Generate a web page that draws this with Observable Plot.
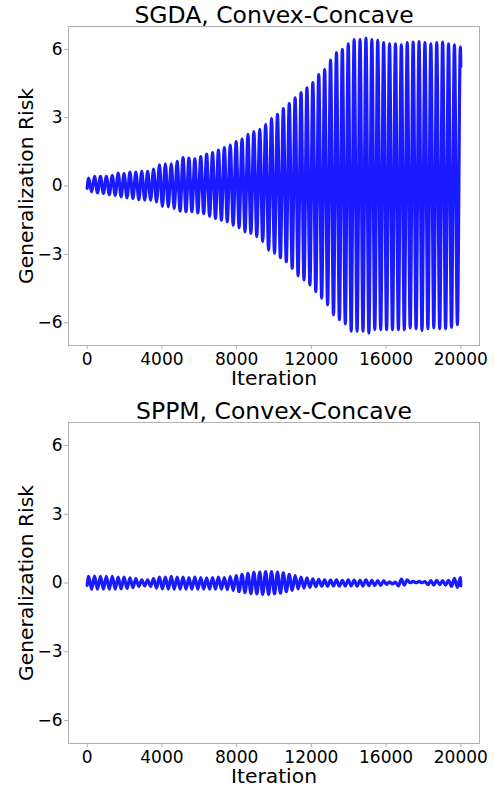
<!DOCTYPE html>
<html>
<head>
<meta charset="utf-8">
<script src="https://cdn.jsdelivr.net/npm/d3@7"></script>
<script src="https://cdn.jsdelivr.net/npm/@observablehq/plot@0.6"></script>
<style>
  html, body { margin: 0; padding: 0; background: white; }
  #chart { width: 494px; }
  #chart svg { display: block; }
</style>
</head>
<body>
<div id="chart"></div>
<script>
// ---- data ----
const titles = ["SGDA, Convex-Concave", "SPPM, Convex-Concave"];
const xLabel = "Iteration";
const yLabel = "Generalization Risk";
const xTicks = [0, 4000, 8000, 12000, 16000, 20000];
const yTicks = [-6, -3, 0, 3, 6];

// oscillation timing (iterations), read from the peak spacing
const firstPeak = 79;
const period = 315.8;
const lastIteration = 20000;

// SGDA: successive peak / trough values
const sgdaStart = -0.1;
const sgdaEnd = 5.25;
const sgdaPeaks = [0.35,0.42,0.42,0.42,0.46,0.57,0.54,0.61,0.61,0.64,0.64,0.74,0.93,0.97,0.97,1.08,
  1.25,1.22,1.19,1.29,1.40,1.47,1.58,1.69,1.80,1.95,2.06,2.27,2.39,2.49,2.71,2.97,3.14,
  3.40,3.62,3.87,4.10,4.31,4.54,4.89,5.11,5.52,5.85,6.00,6.24,6.43,6.42,6.49,6.43,6.39,
  6.29,6.24,6.24,6.20,6.29,6.32,6.34,6.29,6.24,6.29,6.32,6.24,6.20,6.10];
const sgdaTroughs = [-0.26,-0.30,-0.33,-0.38,-0.41,-0.48,-0.52,-0.55,-0.60,-0.62,-0.62,-0.70,-0.89,-0.92,-0.99,
  -1.10,-1.13,-1.13,-1.18,-1.21,-1.32,-1.42,-1.50,-1.57,-1.72,-1.83,-2.01,-2.08,-2.22,-2.44,
  -2.81,-2.95,-3.14,-3.32,-3.61,-3.94,-4.12,-4.34,-4.63,-4.92,-5.21,-5.65,-5.87,-6.05,-6.37,
  -6.37,-6.37,-6.45,-6.30,-6.30,-6.30,-6.30,-6.30,-6.30,-6.23,-6.26,-6.34,-6.26,-6.23,-6.26,
  -6.26,-6.20,-6.08];

// SPPM: successive peak / trough values
const sppmStart = -0.1;
const sppmEnd = -0.12;
const sppmPeaks = [0.29,0.30,0.29,0.29,0.29,0.26,0.26,0.23,0.19,0.14,0.14,0.19,0.26,0.26,0.29,0.26,
  0.26,0.24,0.26,0.24,0.22,0.24,0.26,0.24,0.28,0.32,0.38,0.42,0.46,0.48,0.50,0.50,
  0.48,0.44,0.38,0.32,0.26,0.22,0.18,0.16,0.14,0.13,0.14,0.12,0.14,0.13,0.12,0.14,
  0.12,0.11,0.11,0.05,0.04,0.17,0.14,0.07,0.07,0.06,0.10,0.12,0.10,0.12,0.20,0.24];
const sppmTroughs = [-0.27,-0.27,-0.27,-0.27,-0.27,-0.26,-0.24,-0.20,-0.15,-0.13,-0.15,-0.22,-0.26,-0.27,-0.27,
  -0.27,-0.27,-0.27,-0.27,-0.27,-0.27,-0.27,-0.27,-0.29,-0.33,-0.38,-0.42,-0.46,-0.48,-0.50,-0.50,
  -0.48,-0.44,-0.38,-0.32,-0.26,-0.22,-0.19,-0.16,-0.14,-0.14,-0.13,-0.14,-0.13,-0.13,-0.14,-0.13,
  -0.12,-0.11,-0.11,-0.06,-0.04,-0.13,-0.09,0.01,0.01,0.01,-0.07,-0.09,-0.07,-0.09,-0.15,-0.19];

// ---- build tables ----
function buildSeries(start, peaks, troughs, end) {
  const pts = [{x: 0, y: start}];
  for (let i = 0; i < peaks.length; i++) {
    pts.push({x: firstPeak + i * period, y: peaks[i]});
    if (i < troughs.length) pts.push({x: firstPeak + period / 2 + i * period, y: troughs[i]});
  }
  pts.push({x: lastIteration, y: end});
  return pts;
}

const panels = [
  {title: titles[0], data: buildSeries(sgdaStart, sgdaPeaks, sgdaTroughs, sgdaEnd), height: 396, marginBottom: 51},
  {title: titles[1], data: buildSeries(sppmStart, sppmPeaks, sppmTroughs, sppmEnd), height: 390, marginBottom: 43}
];

const fmtY = d => d < 0 ? "\u2212" + Math.abs(d) : String(d);
const frameColor = "#b0b0b0";

for (const p of panels) {
  const chart = Plot.plot({
    width: 494,
    height: p.height,
    marginTop: 26,
    marginBottom: p.marginBottom,
    marginLeft: 68,
    marginRight: 15,
    style: {fontFamily: "'DejaVu Sans', sans-serif", fontSize: "17px", background: "white", color: "black", overflow: "visible"},
    x: {domain: [-1000, 21000], axis: null},
    y: {domain: [-7, 7], axis: null},
    marks: [
      Plot.frame({stroke: frameColor, strokeWidth: 1}),
      Plot.axisX(xTicks, {tickFormat: d => String(d), tickSize: 4, tickPadding: 3, stroke: frameColor, fill: "black", label: null, fontSize: 17}),
      Plot.axisY(yTicks, {tickFormat: fmtY, tickSize: 4, tickPadding: 2, stroke: frameColor, fill: "black", label: null, fontSize: 17}),
      Plot.line(p.data, {x: "x", y: "y", stroke: "#1a1aff", strokeWidth: 3.2, curve: "monotone-x"}),
      Plot.text([p.title], {text: d => d, frameAnchor: "top", textAnchor: "middle", lineAnchor: "bottom", dy: -4, fontSize: 23.5, fill: "black"}),
      Plot.text([xLabel], {text: d => d, frameAnchor: "bottom", textAnchor: "middle", lineAnchor: "bottom", dy: 39, fontSize: 20.3, fill: "black"}),
      Plot.text([yLabel], {text: d => d, frameAnchor: "left", textAnchor: "middle", lineAnchor: "bottom", rotate: -90, dx: -36, fontSize: 20.3, fill: "black"})
    ]
  });
  document.getElementById("chart").appendChild(chart);
}
</script>
</body>
</html>
